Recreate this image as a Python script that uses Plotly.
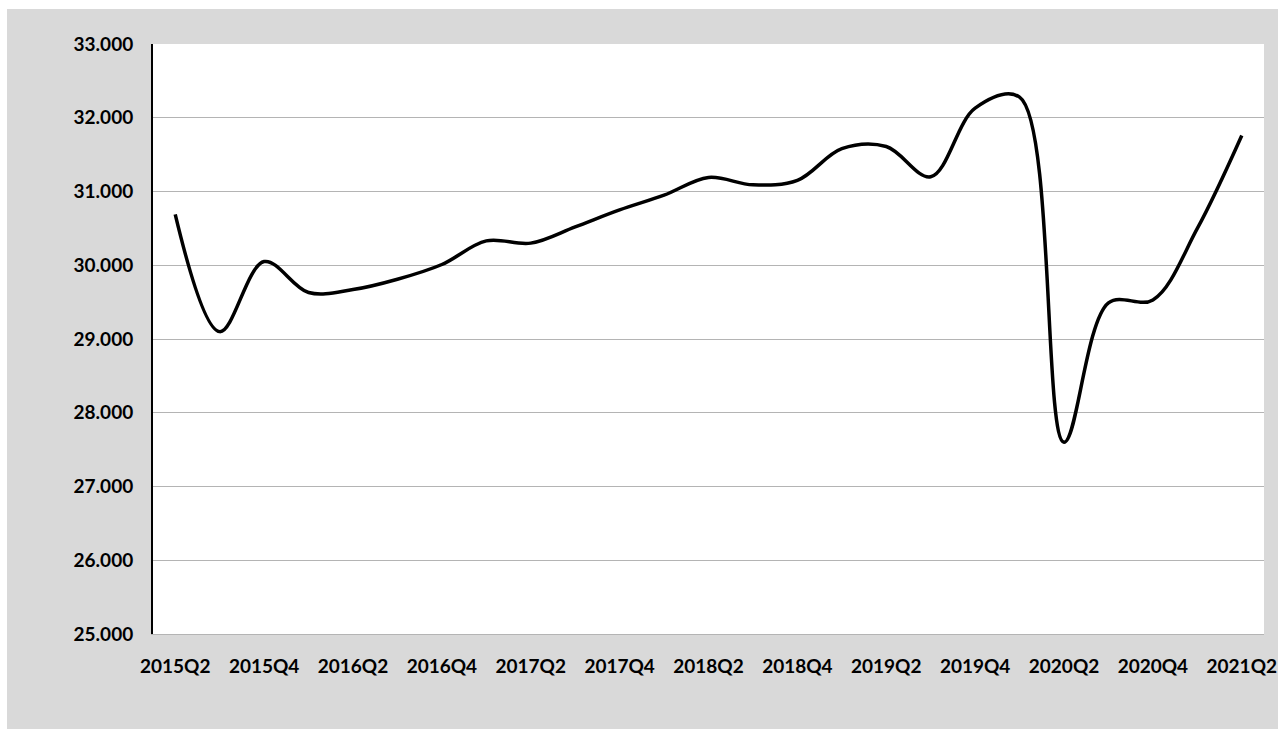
import plotly.graph_objects as go

quarters = ["2015Q2", "2015Q3", "2015Q4", "2016Q1", "2016Q2", "2016Q3", "2016Q4",
            "2017Q1", "2017Q2", "2017Q3", "2017Q4", "2018Q1", "2018Q2", "2018Q3",
            "2018Q4", "2019Q1", "2019Q2", "2019Q3", "2019Q4", "2020Q1", "2020Q2",
            "2020Q3", "2020Q4", "2021Q1", "2021Q2"]
values = [30690, 29100, 30050, 29630, 29670, 29810, 30010, 30330, 30300, 30520,
          30750, 30950, 31190, 31090, 31150, 31580, 31610, 31200, 32130, 32280,
          27600, 29490, 29530, 30500, 31760]
tick_labels = quarters[::2]
y_ticks = [25000, 26000, 27000, 28000, 29000, 30000, 31000, 32000, 33000]

W, H = 1278, 729
L, R, T, B = 153, 14, 44, 95
pw, ph = W - L - R, H - T - B

def px_x(p):
    return (p - L) / pw

def px_y(p):
    return (H - B - p) / ph

fig = go.Figure()
fig.add_trace(go.Scatter(
    x=quarters, y=values, mode="lines",
    line=dict(color="#000000", width=3.5, shape="spline", smoothing=1.0),
    hoverinfo="x+y",
))

font_family = "Lato"
fig.update_layout(
    width=W, height=H,
    margin=dict(l=L, r=R, t=T, b=B, autoexpand=False),
    paper_bgcolor="#d9d9d9",
    plot_bgcolor="#ffffff",
    showlegend=False,
    separators=",.",
    font=dict(family=font_family, size=19, color="#000000"),
    xaxis=dict(
        type="category",
        range=[-0.5, len(quarters) - 0.5],
        tickmode="array", tickvals=tick_labels, ticktext=tick_labels,
        showgrid=False, zeroline=False,
        showline=True, linecolor="#b4b4b4", linewidth=1,
        ticks="", ticklabelstandoff=15,
        tickfont=dict(family=font_family, size=19, color="#000000", weight="bold"),
    ),
    yaxis=dict(
        range=[25000, 33000],
        tickmode="array", tickvals=y_ticks,
        ticktext=[f"{v // 1000}.000" for v in y_ticks],
        showgrid=True, gridcolor="#b4b4b4", gridwidth=1,
        zeroline=False,
        showline=True, linecolor="#000000", linewidth=2,
        ticks="", ticklabelstandoff=14,
        tickfont=dict(family=font_family, size=19, color="#000000", weight="bold"),
    ),
    shapes=[
        dict(type="rect", xref="paper", yref="paper",
             x0=px_x(0), x1=px_x(7), y0=px_y(H), y1=px_y(0),
             fillcolor="#ffffff", line=dict(width=0), layer="below"),
        dict(type="rect", xref="paper", yref="paper",
             x0=px_x(0), x1=px_x(W), y0=px_y(9), y1=px_y(0),
             fillcolor="#ffffff", line=dict(width=0), layer="below"),
    ],
)

fig.write_html("out.html",
               config={"displayModeBar": False},
               post_script="document.body.style.margin='0';document.body.style.overflow='hidden';")
